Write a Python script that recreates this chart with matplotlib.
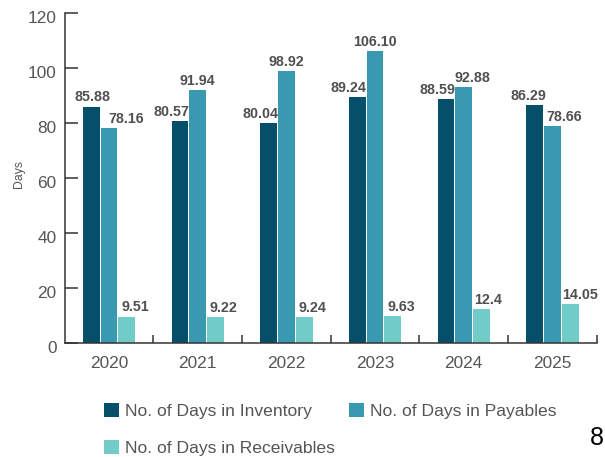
import matplotlib
matplotlib.use("Agg")
import matplotlib.pyplot as plt
import matplotlib.transforms as mtransforms
import numpy as np

years = ["2020", "2021", "2022", "2023", "2024", "2025"]
inventory = [85.88, 80.57, 80.04, 89.24, 88.59, 86.29]
payables = [78.16, 91.94, 98.92, 106.10, 92.88, 78.66]
receivables = [9.51, 9.22, 9.24, 9.63, 12.4, 14.05]
inventory_txt = ["85.88", "80.57", "80.04", "89.24", "88.59", "86.29"]
payables_txt = ["78.16", "91.94", "98.92", "106.10", "92.88", "78.66"]
receivables_txt = ["9.51", "9.22", "9.24", "9.63", "12.4", "14.05"]

# label nudges (points) so the numbers don't collide
inv_dx = [1, -6, -6, -6.5, -6.5, -4.5]
pay_dx = [12, 0, 0, 0, 6.5, 8.5]
rec_dx = [6, 6, 6, 6, 5, 7]

c_inv = "#054f6b"
c_pay = "#3899b0"
c_rec = "#70cbc9"
grey = "#505050"
dark = "#333333"

plt.rcParams["font.family"] = ["Liberation Sans", "DejaVu Sans"]

fig = plt.figure(figsize=(6.05, 4.57), dpi=100)
ax = fig.add_axes([0.107, 0.2501, 0.8793, 0.7221])

x = np.arange(len(years))
w = 0.19
step = 0.2

sets = [
    (inventory, inventory_txt, inv_dx, c_inv, -step, "No. of Days in Inventory"),
    (payables, payables_txt, pay_dx, c_pay, 0, "No. of Days in Payables"),
    (receivables, receivables_txt, rec_dx, c_rec, step, "No. of Days in Receivables"),
]
handles = []
for vals, txts, dxs, col, off, name in sets:
    b = ax.bar(x + off, vals, width=w, color=col, label=name, linewidth=0)
    handles.append(b)
    for xi, v, t, dx in zip(x + off, vals, txts, dxs):
        ax.annotate(t, (xi, v), xytext=(dx, 1.5), textcoords="offset points",
                    ha="center", va="bottom", fontsize=10.3, fontweight="bold",
                    color=grey)

ax.set_xlim(-0.5, 5.5)
ax.set_ylim(0, 120)
ax.set_yticks(range(0, 121, 20))
ax.set_xticks(x)
ax.set_xticklabels(years)
ax.set_xticks(np.arange(0.5, 5.6, 1), minor=True)

for s in ["top", "right"]:
    ax.spines[s].set_visible(False)
for s in ["left", "bottom"]:
    ax.spines[s].set_color(dark)
    ax.spines[s].set_linewidth(1.1)

ax.tick_params(axis="y", direction="in", length=9.4, width=1.1, color=dark,
               labelsize=12.4, labelcolor="#555555", pad=5.8)
ax.tick_params(axis="x", which="major", length=0, labelsize=12.4,
               labelcolor="#555555", pad=9.5)
ax.tick_params(axis="x", which="minor", direction="in", length=5.8,
               width=1.1, color=dark)

# y labels sit a bit lower than their ticks in the original
shift = mtransforms.ScaledTranslation(0, -4 / 100, fig.dpi_scale_trans)
for lbl in ax.get_yticklabels():
    lbl.set_transform(lbl.get_transform() + shift)

fig.text(19 / 605, 1 - 174 / 457, "Days", rotation=90, ha="center",
         va="center", fontsize=8.8, color="#555555")

# column-major fill: inventory + receivables in col 1, payables in col 2
order = [handles[0], handles[2], handles[1]]
fig.legend(handles=order, loc="upper left", bbox_to_anchor=(0.172, 0.119),
           ncol=2, frameon=False, fontsize=12.6, labelcolor="#555555",
           handlelength=0.85, handleheight=0.85, handletextpad=0.35,
           columnspacing=0.83, labelspacing=1.23, borderpad=0, borderaxespad=0)

fig.text(604 / 605, 1 - 438 / 457, "8", ha="right", va="center",
         fontsize=18, color="black")

fig.savefig("out.png", dpi=100)
